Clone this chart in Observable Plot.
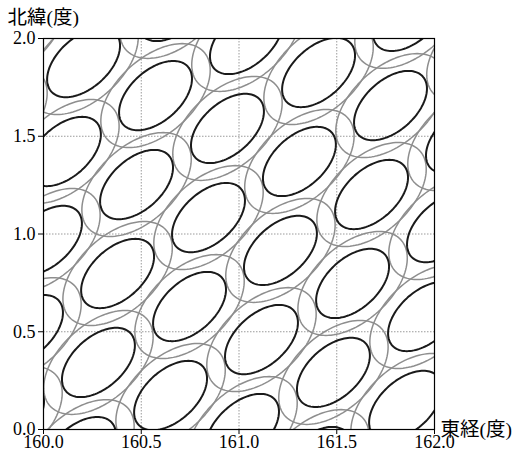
<!DOCTYPE html>
<html><head><meta charset="utf-8">
<script src="https://cdn.jsdelivr.net/npm/d3@7"></script>
<script src="https://cdn.jsdelivr.net/npm/@observablehq/plot@0.6"></script>
<style>
body{margin:0;background:#fff}
#chart svg text{font-family:"Liberation Serif","Noto Sans CJK JP",serif !important;}
</style>
</head><body><div id="chart"></div>
<script>
// ellipse centres (longitude, latitude in degrees)
const centerLon = [161.872, 162.240, 160.670, 161.038, 161.407, 161.775, 162.143,
  159.836, 160.205, 160.573, 160.941, 161.309, 161.678, 162.046,
  159.739, 160.107, 160.476, 160.844, 161.212, 161.581, 161.949,
  160.010, 160.379, 160.747, 161.115, 161.483, 161.852, 162.220,
  159.913, 160.281, 160.650, 161.018, 161.386, 159.816, 160.184];
const centerLat = [2.113, 1.944, 2.164, 1.995, 1.826, 1.657, 1.488,
  2.046, 1.877, 1.708, 1.540, 1.371, 1.202, 1.033,
  1.591, 1.422, 1.253, 1.084, 0.916, 0.747, 0.578,
  0.967, 0.798, 0.629, 0.460, 0.292, 0.123, -0.046,
  0.511, 0.343, 0.174, 0.005, -0.164, 0.056, -0.113];
const xTicks = [160.0, 160.5, 161.0, 161.5, 162.0];
const yTicks = [0.0, 0.5, 1.0, 1.5, 2.0];
const xLabel = "東経(度)";
const yLabel = "北緯(度)";

const SEMI_MAJOR = 0.222, SEMI_MINOR = 0.13, ANGLE = 42 * Math.PI / 180;
function outline(scale) {
  const pts = [];
  centerLon.forEach((cx, k) => {
    const cy = centerLat[k];
    for (let s = 0; s <= 120; s++) {
      const t = 2 * Math.PI * s / 120;
      const u = scale * SEMI_MAJOR * Math.cos(t), v = scale * SEMI_MINOR * Math.sin(t);
      pts.push({k, x: cx + u * Math.cos(ANGLE) - v * Math.sin(ANGLE), y: cy + u * Math.sin(ANGLE) + v * Math.cos(ANGLE)});
    }
  });
  return pts;
}

const serif = "Liberation Serif, Noto Sans CJK JP, serif";

const chart = Plot.plot({
  width: 512, height: 455,
  marginLeft: 43, marginRight: 78, marginTop: 38, marginBottom: 26,
  x: {domain: [160, 162]},
  y: {domain: [0, 2]},
  style: {fontFamily: serif, fontSize: "18px", color: "#000", background: "#fff"},
  marks: [
    Plot.gridX(xTicks, {stroke: "#9a9a9a", strokeOpacity: 1, strokeDasharray: "1.5,1.5"}),
    Plot.gridY(yTicks, {stroke: "#9a9a9a", strokeOpacity: 1, strokeDasharray: "1.5,1.5"}),
    Plot.line(outline(1.5), {x: "x", y: "y", z: "k", stroke: "#8e8e8e", strokeWidth: 1.5, clip: true}),
    Plot.line(outline(1), {x: "x", y: "y", z: "k", stroke: "#1a1a1a", strokeWidth: 2, clip: true}),
    Plot.frame({stroke: "#000", strokeWidth: 1.2}),
    Plot.axisX(xTicks, {tickSize: 5, tickPadding: 1, tickFormat: d => d.toFixed(1), label: null, fontSize: 18}),
    Plot.axisY(yTicks, {tickSize: 5, tickPadding: 3, tickFormat: d => d.toFixed(1), label: null, fontSize: 18}),
    Plot.text([xLabel], {frameAnchor: "bottom-right", dx: 6, textAnchor: "start", lineAnchor: "middle",
      fontSize: 19.5, fill: "#000"}),
    Plot.text([yLabel], {frameAnchor: "top-left", dx: -36, dy: -21, textAnchor: "start", lineAnchor: "middle",
      fontSize: 19.5, fill: "#000"})
  ]
});
document.getElementById("chart").appendChild(chart);
</script>
</body></html>
